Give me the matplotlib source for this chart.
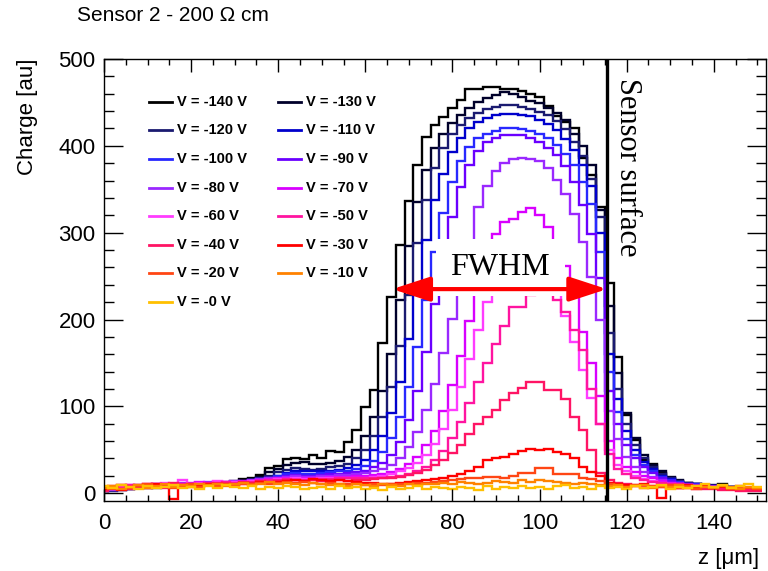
import numpy as np
import matplotlib.pyplot as plt
from matplotlib.lines import Line2D
from matplotlib.ticker import MultipleLocator

plt.rcParams['font.family'] = ['Liberation Sans', 'DejaVu Sans']

# bin centres are 0, 2, ..., 150 um (2 um bins)
bin_edges = np.arange(-1, 152, 2)

voltages = [-140, -130, -120, -110, -100, -90, -80, -70, -60, -50, -40, -30, -20, -10, 0]
colors = ['#000000', '#00002a', '#1a1a70', '#0000cc', '#2828ff', '#6a00ff', '#9a28ff',
          '#d800ff', '#ff3cff', '#ff14a0', '#ff1464', '#ff0000', '#ff4614', '#ff8200', '#ffc000']

q_140 = [2, 4, 6, 5, 8, 7, 9, 8, 10, 9,
         11, 10, 12, 13, 12, 14, 16, 18, 21, 29,
         31, 39, 41, 39, 44, 40, 49, 47, 59, 73,
         99, 119, 173, 226, 286, 337, 378, 410, 424, 433,
         443, 453, 466, 466, 468, 468, 466, 465, 463, 460,
         456, 446, 434, 428, 420, 386, 366, 330, 242, 157,
         90, 61, 38, 34, 23, 18, 14, 12, 10, 9,
         8, 10, 7, 6, 5, 4]
q_130 = [3, 5, 4, 7, 6, 8, 7, 9, 8, 10,
         9, 11, 10, 12, 11, 13, 14, 16, 19, 24,
         28, 33, 35, 36, 34, 34, 35, 37, 42, 50,
         66, 88, 118, 160, 222, 285, 335, 372, 398, 414,
         426, 436, 444, 450, 455, 459, 462, 460, 456, 452,
         449, 444, 438, 430, 414, 400, 378, 326, 215, 138,
         92, 64, 44, 32, 25, 19, 15, 12, 10, 9,
         9, 8, 7, 6, 6, 5]
q_120 = [4, 3, 6, 5, 7, 8, 6, 9, 8, 7,
         10, 9, 11, 10, 12, 12, 13, 15, 17, 20,
         24, 27, 29, 28, 27, 28, 30, 31, 34, 40,
         50, 66, 88, 122, 170, 228, 288, 338, 374, 398,
         414, 424, 432, 438, 442, 445, 447, 447, 445, 442,
         439, 435, 429, 419, 404, 388, 362, 318, 185, 120,
         80, 55, 40, 30, 22, 17, 14, 12, 10, 9,
         8, 8, 7, 6, 5, 5]
q_110 = [5, 6, 4, 8, 7, 6, 9, 10, 8, 9,
         11, 10, 9, 12, 11, 13, 13, 14, 16, 18,
         20, 23, 25, 26, 25, 25, 26, 27, 29, 32,
         38, 50, 66, 92, 128, 178, 238, 292, 338, 368,
         393, 409, 420, 427, 432, 435, 437, 437, 436, 434,
         430, 425, 418, 408, 395, 378, 354, 300, 160, 108,
         72, 50, 36, 28, 20, 16, 13, 11, 10, 9,
         8, 7, 7, 6, 5, 5]
q_100 = [6, 4, 7, 5, 8, 9, 7, 10, 9, 11,
         10, 9, 12, 11, 12, 12, 14, 15, 16, 18,
         20, 22, 23, 22, 22, 23, 24, 25, 26, 28,
         31, 37, 47, 63, 88, 122, 168, 222, 278, 323,
         358, 383, 399, 409, 414, 417, 420, 420, 419, 417,
         414, 409, 401, 391, 378, 358, 333, 278, 140, 94,
         62, 44, 32, 25, 19, 15, 13, 11, 10, 9,
         8, 8, 7, 6, 5, 5]
q_90 = [3, 6, 5, 8, 6, 9, 8, 7, 10, 11,
        9, 12, 10, 11, 13, 12, 13, 14, 15, 17,
        18, 20, 21, 20, 20, 21, 22, 22, 23, 24,
        26, 30, 35, 44, 59, 84, 118, 163, 218, 272,
        318, 353, 378, 394, 404, 409, 412, 413, 412, 409,
        404, 397, 389, 377, 358, 332, 298, 248, 118, 80,
        55, 40, 30, 23, 18, 14, 12, 10, 9, 8,
        8, 7, 6, 6, 5, 4]
q_80 = [5, 4, 7, 6, 9, 8, 10, 9, 8, 12,
        11, 10, 13, 12, 11, 14, 13, 15, 16, 17,
        18, 19, 20, 19, 19, 20, 20, 21, 21, 22,
        23, 25, 28, 33, 41, 53, 71, 96, 126, 161,
        201, 246, 290, 329, 354, 371, 380, 385, 386, 385,
        382, 374, 361, 344, 321, 289, 249, 199, 95, 62,
        42, 30, 24, 19, 15, 12, 10, 9, 8, 8,
        7, 7, 6, 5, 5, 4]
q_70 = [4, 7, 5, 9, 8, 7, 11, 10, 9, 11,
        12, 13, 10, 12, 13, 12, 14, 14, 15, 16,
        17, 18, 18, 17, 18, 18, 19, 19, 19, 20,
        20, 21, 22, 24, 28, 34, 42, 55, 72, 95,
        124, 158, 198, 238, 272, 298, 312, 316, 324, 328,
        320, 306, 290, 262, 226, 186, 150, 112, 60, 40,
        30, 24, 20, 17, 14, 12, 10, 9, 8, 8,
        7, 7, 6, 5, 5, 4]
q_60 = [6, 5, 8, 7, 6, 10, 9, 12, 8, 15,
        10, 12, 11, 14, 12, 13, 12, 14, 14, 15,
        16, 16, 17, 16, 16, 17, 17, 17, 18, 18,
        18, 19, 20, 22, 25, 29, 35, 44, 57, 74,
        96, 122, 154, 188, 220, 248, 266, 276, 280, 279,
        270, 252, 230, 204, 174, 142, 110, 80, 50, 32,
        25, 20, 16, 14, 12, 11, 10, 9, 8, 7,
        7, 6, 6, 5, 4, 4]
q_50 = [5, 7, 6, 9, 8, 7, 10, 9, 11, 10,
        9, 11, 12, 10, 13, 12, 11, 13, 14, 15,
        15, 16, 15, 15, 16, 16, 16, 17, 17, 17,
        17, 17, 18, 19, 20, 22, 25, 30, 38, 48,
        64, 82, 104, 128, 150, 172, 192, 214, 214, 228,
        235, 232, 222, 209, 188, 165, 120, 80, 45, 28,
        22, 18, 15, 13, 12, 11, 10, 9, 8, 7,
        7, 6, 6, 5, 5, 4]
q_40 = [3, 6, 9, 5, 7, 10, 8, 6, 12, 9,
        11, 8, 10, 12, 9, 11, 13, 12, 14, 13,
        14, 15, 15, 14, 15, 14, 15, 15, 14, 15,
        15, 16, 17, 18, 19, 21, 23, 27, 32, 38,
        46, 56, 68, 80, 88, 96, 107, 115, 121, 128,
        128, 119, 119, 109, 88, 73, 50, 23, 15, 12,
        10, 9, 8, 8, 7, 7, 6, 6, 5, 5,
        5, 4, 4, 3, 3, 3]
q_30 = [5, 8, 4, 7, 9, 6, 10, 8, -7, 8,
        7, 9, 11, 8, 10, 9, 12, 11, 13, 12,
        13, 14, 15, 14, 16, 15, 14, 15, 14, 13,
        12, 12, 11, 11, 12, 13, 14, 15, 16, 18,
        20, 22, 25, 30, 38, 41, 42, 45, 48, 51,
        50, 51, 47, 45, 40, 30, 24, 20, 12, 10,
        9, 8, 10, 7, -6, 8, 6, 9, 7, 8,
        6, 7, 5, 8, 6, 5]
q_20 = [7, 5, 9, 6, 8, 10, 7, 9, 6, 8,
        10, 7, 9, 8, 10, 9, 11, 10, 12, 11,
        12, 13, 12, 13, 12, 11, 12, 11, 10, 10,
        9, 10, 9, 10, 10, 11, 12, 12, 13, 14,
        15, 16, 17, 18, 19, 19, 18, 20, 23, 23,
        29, 29, 22, 22, 22, 17, 16, 14, 10, 8,
        7, 9, 6, 8, 7, 9, 6, 8, 5, 7,
        6, 8, 5, 7, 6, 5]
q_10 = [6, 8, 5, 7, 9, 6, 8, 10, 7, 9,
        8, 10, 9, 11, 8, 10, 12, 9, 11, 13,
        10, 12, 11, 9, 12, 10, 9, 11, 8, 10,
        9, 8, 10, 9, 8, 10, 9, 11, 10, 12,
        11, 13, 12, 10, 12, 14, 13, 12, 15, 13,
        15, 14, 13, 12, 11, 12, 10, 9, 8, 9,
        7, 8, 9, 6, 8, 7, 9, 6, 8, 7,
        6, 8, 7, 5, 7, 6]
q_0 = [8, 6, 9, 7, 5, 8, 6, 7, 9, 6,
       7, 5, 8, 6, 9, 7, 6, 8, 5, 7,
       6, 8, 7, 5, 6, 7, 5, 8, 6, 7,
       5, 6, 4, 7, 5, 6, 8, 5, 7, 6,
       5, 7, 6, 4, 8, 5, 7, 6, 8, 6,
       7, 5, 8, 9, 6, 7, 5, 8, 6, 7,
       5, 8, 6, 7, 9, 5, 7, 6, 8, 10,
       7, 9, 6, 8, 10, 7]

charges = [q_140, q_130, q_120, q_110, q_100, q_90, q_80, q_70,
           q_60, q_50, q_40, q_30, q_20, q_10, q_0]

sensor_surface = 115.5
fwhm_left, fwhm_right, half_max = 66.2, 115.5, 235

fig = plt.figure(figsize=(7.68, 5.71), dpi=100)
ax = fig.add_axes([0.1354, 0.1226, 0.8620, 0.7741])

for q, c in zip(charges, colors):
    ax.stairs(q, bin_edges, color=c, lw=1.7, baseline=None)

ax.set_xlim(0, 152)
ax.set_ylim(-9, 500)

ax.axvline(sensor_surface, color='black', lw=2.4)

# FWHM arrow and label
ax.text(91, 260, 'FWHM', family='Liberation Serif', fontsize=23, ha='center', va='center',
        bbox=dict(facecolor='white', edgecolor='none', boxstyle='square,pad=0.45'))
ax.annotate('', xy=(fwhm_right, half_max), xytext=(fwhm_left, half_max),
            arrowprops=dict(arrowstyle='<|-|>,head_length=2.3,head_width=0.75', color='red',
                            lw=3, mutation_scale=10, shrinkA=0, shrinkB=0))
ax.text(120.2, 478, 'Sensor surface', family='Liberation Serif', fontsize=22,
        rotation=270, ha='center', va='top')

# legend, two columns, row-major order
for i, (v, c) in enumerate(zip(voltages, colors)):
    row, col = divmod(i, 2)
    y = 0.903 - row * 0.0647
    x0 = 0.068 + col * 0.195
    ax.add_line(Line2D([x0, x0 + 0.035], [y, y], color=c, lw=2, transform=ax.transAxes))
    ax.text(x0 + 0.042, y, f'V = {v:d} V' if v != 0 else 'V = -0 V', transform=ax.transAxes,
            fontsize=10.5, fontweight='bold', va='center', ha='left')

ax.xaxis.set_major_locator(MultipleLocator(20))
ax.xaxis.set_minor_locator(MultipleLocator(5))
ax.yaxis.set_major_locator(MultipleLocator(100))
ax.yaxis.set_minor_locator(MultipleLocator(20))
ax.tick_params(which='both', direction='in', top=True, right=True, width=1, labelsize=16)
ax.tick_params(axis='x', which='major', length=9, pad=9)
ax.tick_params(axis='x', which='minor', length=4.5)
ax.tick_params(axis='y', which='major', length=14, pad=6)
ax.tick_params(axis='y', which='minor', length=7)
for s in ax.spines.values():
    s.set_linewidth(1)

ax.set_ylabel('Charge [au]', fontsize=16, loc='top')
ax.yaxis.set_label_coords(-0.10, 1.0)
ax.set_xlabel('z [μm]', fontsize=16, loc='right')
ax.xaxis.set_label_coords(0.99, -0.107)

fig.text(77 / 768, 1 - 6 / 571, 'Sensor 2 - 200 Ω cm', fontsize=15, ha='left', va='top')

fig.savefig('out.png', dpi=100)
